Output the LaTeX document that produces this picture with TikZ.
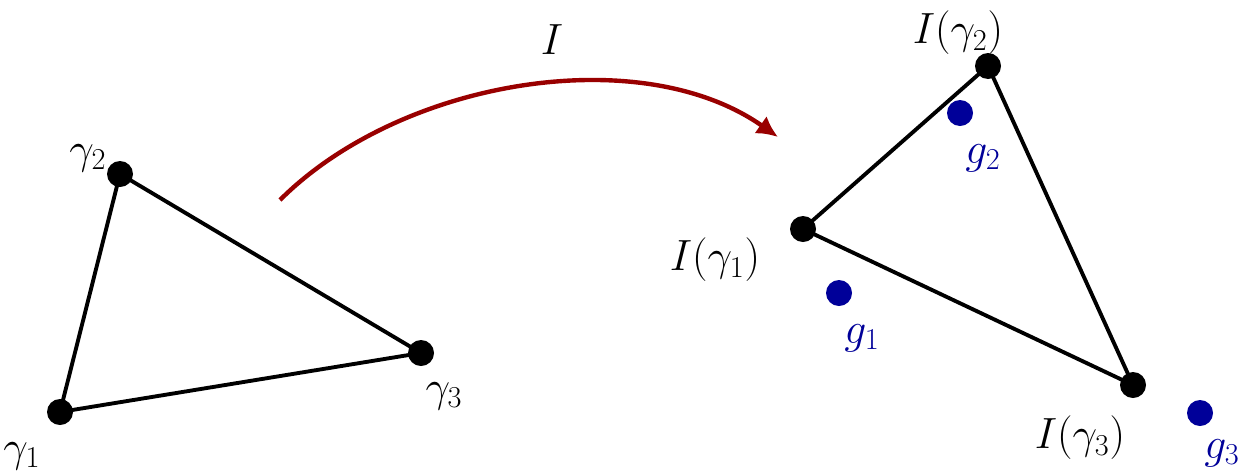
\documentclass[tikz,border=0pt]{standalone}
\usetikzlibrary{arrows.meta}
\begin{document}
\begin{tikzpicture}[x=0.02cm,y=-0.02cm,
  dot/.style={circle,fill=black,inner sep=0pt,minimum size=26*0.02cm},
  bdot/.style={circle,fill=blue!60!black,inner sep=0pt,minimum size=26*0.02cm},
  lbl/.style={font=\fontsize{23}{27}\selectfont},
  blbl/.style={font=\fontsize{23}{27}\selectfont,text=blue!60!black},
  edge/.style={line width=2.2pt}]
\useasboundingbox (0,0) rectangle (1243,474);
\node[dot] (a1) at (60,412) {};
\node[dot] (a2) at (120,174) {};
\node[dot] (a3) at (421,353) {};
\node[dot] (b1) at (803,229) {};
\node[dot] (b2) at (988,66) {};
\node[dot] (b3) at (1133,385) {};
\node[bdot] (g1) at (839,293) {};
\node[bdot] (g2) at (960,113) {};
\node[bdot] (g3) at (1200,413) {};
\draw[edge] (a1.center)--(a2.center)--(a3.center)--cycle;
\draw[edge] (b1.center)--(b2.center)--(b3.center)--cycle;
\node[lbl] (la1) at (22,456) {$\gamma_1$};
\node[lbl] (la2) at (88,158) {$\gamma_2$};
\node[lbl] (la3) at (444,396) {$\gamma_3$};
\node[lbl] (lb1) at (715,260) {$I(\gamma_1)$};
\node[lbl] (lb2) at (958,33) {$I(\gamma_2)$};
\node[lbl] (lb3) at (1080,438) {$I(\gamma_3)$};
\node[blbl] (lg1) at (862,338) {$g_1$};
\node[blbl] (lg2) at (983,158) {$g_2$};
\node[blbl] (lg3) at (1222,453) {$g_3$};
\node[lbl] (lI) at (552,40) {$I$};
\coordinate (s) at (280,200);
\coordinate (e) at (778,137);
\draw[line width=2.5pt,color=red!60!black,-{Latex[length=12pt,width=12pt]}] (s) .. controls (400,80) and (640,40) .. (e);
\end{tikzpicture}
\end{document}
